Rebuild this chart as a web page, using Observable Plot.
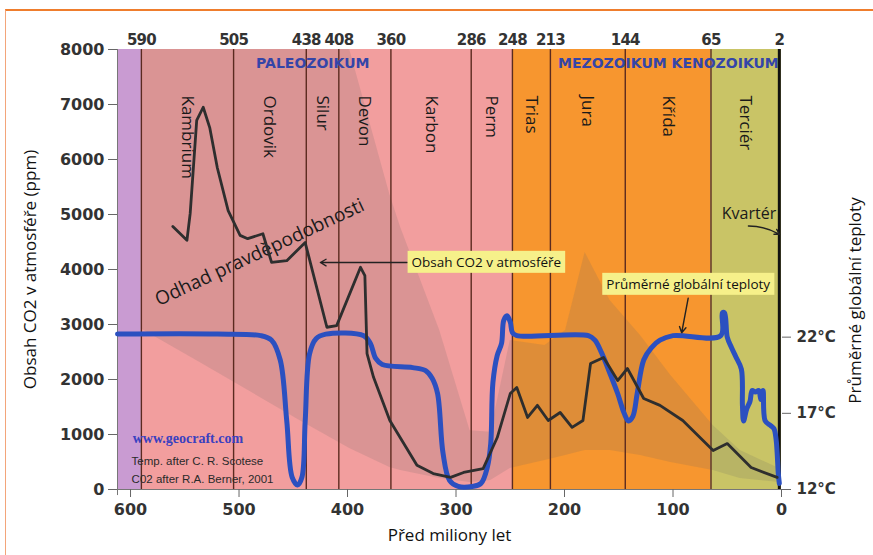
<!DOCTYPE html>
<html>
<head>
<meta charset="utf-8">
<script src="https://cdn.jsdelivr.net/npm/d3@7"></script>
<script src="https://cdn.jsdelivr.net/npm/@observablehq/plot@0.6"></script>
<style>
  body { margin: 0; background: #fff; }
  #wrap { position: relative; width: 873px; height: 555px; overflow: hidden; }
  #border { position: absolute; left: 5px; top: 9px; right: -2px; bottom: -2px;
            border-top: 2px solid #ef7d2d; border-left: 1.5px solid #f3a57a; pointer-events: none; }
</style>
</head>
<body>
<div id="wrap"><div id="border"></div></div>
<script>
// ---- Geological periods (millions of years ago) ----
const periodNames  = ["Kambrium", "Ordovik", "Silur", "Devon", "Karbon", "Perm", "Trias", "Jura", "Křída", "Terciér"];
const periodStarts = [590, 505, 438, 408, 360, 286, 248, 213, 144, 65];
const periodEnds   = [505, 438, 408, 360, 286, 248, 213, 144, 65, 2];
const topTickLabels = [590, 505, 438, 408, 360, 286, 248, 213, 144, 65, 2];

// ---- Era background bands ----
const eraNames  = ["Prekambrium", "Paleozoikum", "Mezozoikum", "Kenozoikum"];
const eraStarts = [612, 590, 248, 65];
const eraEnds   = [590, 248, 65, 0];
const eraColors = ["#c99bd2", "#f29e9e", "#f7962f", "#c9c466"];

// ---- CO2 in atmosphere (ppm), Berner ----
const co2Ma  = [561, 548, 545, 539, 533, 527, 520, 510, 499, 492, 478, 470, 456, 439, 419, 410, 388, 384, 382, 376, 361, 336, 321, 305, 293, 275, 262, 250, 244, 234, 225, 215, 204, 193, 183, 176, 164, 151, 142, 127, 112, 91, 63, 50, 28, 4];
const co2Ppm = [4780, 4530, 5020, 6710, 6950, 6580, 5850, 5070, 4620, 4560, 4650, 4130, 4160, 4490, 2950, 2980, 4040, 3890, 2470, 2040, 1255, 440, 290, 220, 310, 380, 945, 1745, 1855, 1310, 1530, 1255, 1400, 1130, 1255, 2290, 2400, 1980, 2200, 1655, 1530, 1255, 710, 835, 400, 220];

// ---- Uncertainty range of CO2 estimate ----
const unMa   = [590, 536, 444, 398, 361, 351, 315, 287, 268, 250, 218, 199, 181, 158, 130, 102, 63, 38, 2];
const unLow  = [2917, 2309, 1255, 745, 400, 345, 200, 127, 164, 380, 527, 618, 709, 709, 618, 490, 345, 200, 127];
const unHigh = [8000, 8000, 8000, 8000, 5364, 4764, 2890, 1070, 1040, 2710, 2618, 2890, 4310, 3436, 2800, 2073, 1164, 709, 380];

// ---- Global mean temperature (°C), Scotese ----
const tMa = [612, 520, 480, 470, 462, 456, 451, 446, 442, 439, 435, 429, 420, 385, 379, 374, 368, 340, 328, 322, 317, 312, 306, 298, 285, 277, 271, 268, 266, 262, 258, 256, 253, 250, 248, 244, 178, 172, 166, 158, 151, 145, 141, 137, 133, 127, 120, 112, 100, 56, 54.5, 52.5, 50, 46, 42, 37, 36, 35, 32, 29, 27, 24, 21, 19, 17, 15, 10, 7, 5, 4, 3, 2];
const tC  = [22.2, 22.2, 22.1, 21.8, 20.5, 16.5, 12.8, 12.3, 12.8, 16.5, 20.9, 21.9, 22.2, 22.1, 21.6, 20.6, 20.2, 20.0, 19.8, 19.3, 18.3, 14.4, 12.6, 12.2, 12.2, 12.4, 13.5, 15.0, 19.0, 20.8, 21.6, 23.1, 23.4, 23.0, 22.3, 22.1, 22.1, 21.8, 21.0, 19.6, 18.3, 17.0, 16.5, 16.8, 18.3, 20.5, 21.3, 21.8, 22.1, 22.1, 23.6, 23.6, 22.0, 21.3, 20.7, 19.9, 17.5, 16.5, 17.3, 17.8, 18.5, 18.4, 18.5, 17.9, 18.5, 16.5, 16.2, 16.0, 15.3, 14.4, 13.1, 12.4];

// ---- Axis ticks ----
const ppmTicks = [0, 1000, 2000, 3000, 4000, 5000, 6000, 7000, 8000];
const maTicks  = [600, 500, 400, 300, 200, 100, 0];
const tempTicks = [12, 17, 22];

// ---- Texts ----
const callouts = [
  {text: "Obsah CO2 v atmosféře", ma: 272, ppm: 4127},
  {text: "Průměrné globální teploty", ma: 86, ppm: 3727}
];
const arrowsFrom = [{ma: 345, ppm: 4127}, {ma: 86, ppm: 3480}];
const arrowsTo   = [{ma: 425, ppm: 4127}, {ma: 92, ppm: 2850}];
const kvarterArrow = [{x1: 30.5, y1: 4790, x2: 1.8, y2: 4640}];

// temperature placed on the CO2 axis (right axis)
const tempToPpm = d3.scaleLinear([12, 22], [0, 2770]);

const periods = periodNames.map((n, i) => ({name: n, start: periodStarts[i], end: periodEnds[i], mid: (periodStarts[i] + periodEnds[i]) / 2}));
const eras = eraNames.map((n, i) => ({name: n, start: eraStarts[i], end: eraEnds[i], color: eraColors[i]}));
const co2 = co2Ma.map((m, i) => ({ma: m, ppm: co2Ppm[i]}));
const unc = unMa.map((m, i) => ({ma: m, lo: unLow[i], hi: unHigh[i]}));
const temp = tMa.map((m, i) => ({ma: m, ppm: tempToPpm(tC[i])}));
const arrows = arrowsFrom.map((a, i) => ({x1: a.ma, y1: a.ppm, x2: arrowsTo[i].ma, y2: arrowsTo[i].ppm}));

const F = "'Open Sans', 'Noto Sans', sans-serif";
const FN = "'DejaVu Sans', sans-serif";

const chart = Plot.plot({
  width: 873,
  height: 555,
  marginLeft: 117,
  marginRight: 92,
  marginTop: 49,
  marginBottom: 66,
  style: {fontFamily: FN, fontSize: "15px", color: "#333", background: "transparent", overflow: "visible"},
  x: {domain: [612, 0]},
  y: {domain: [0, 8000]},
  marks: [
    Plot.rect(eras, {x1: "start", x2: "end", fill: "color"}),
    Plot.areaY(unc, {x: "ma", y1: "lo", y2: "hi", fill: "#646464", fillOpacity: 0.17}),
    Plot.ruleX(periodStarts, {stroke: "#5b2a1f", strokeWidth: 1.4}),
    Plot.ruleX([2], {stroke: "#111", strokeWidth: 3}),
    Plot.ruleX([612], {stroke: "#777", strokeWidth: 1, y1: -110, y2: 8000}),
    Plot.ruleY([0], {stroke: "#777", strokeWidth: 1}),
    // axes
    Plot.axisY({ticks: ppmTicks, tickSize: 9, tickPadding: 4, fontWeight: 600, fontSize: 16, label: null, stroke: "#666", tickFormat: d => String(d)}),
    Plot.axisY({anchor: "right", ticks: tempTicks.map(tempToPpm), tickSize: 9, tickPadding: 6, fontWeight: 600, fontSize: 15, label: null, stroke: "#666",
      tickFormat: d => `${Math.round(tempToPpm.invert(d))}°C`}),
    Plot.axisX({anchor: "bottom", ticks: maTicks, tickSize: 8, tickPadding: 6, fontWeight: 600, fontSize: 16, label: null, stroke: "#666", tickFormat: d => String(d)}),
    Plot.axisX({anchor: "top", ticks: topTickLabels, tickSize: 0, tickPadding: 5, fontWeight: 600, fontSize: 15, label: null, tickFormat: d => String(d)}),
    // period names
    Plot.text(periods, {x: "mid", y: 7164, text: "name", rotate: 90, textAnchor: "start", fontSize: 17, fontFamily: F, fill: "#1a1a1a"}),
    // era names
    Plot.text(["PALEOZOIKUM"], {x: 432, y: 7745, text: d => d, fontSize: 14, fontWeight: "bold", fontFamily: FN, fill: "#3445a8"}),
    Plot.text(["MEZOZOIKUM KENOZOIKUM"], {x: 2.5, y: 7745, text: d => d, textAnchor: "end", fontSize: 14, fontWeight: "bold", fontFamily: FN, fill: "#3445a8"}),
    // uncertainty label
    Plot.text(["Odhad pravděpodobnosti"], {x: 481, y: 4309, text: d => d, rotate: -25, fontSize: 19, fontFamily: F, fill: "#1a1a1a"}),
    Plot.text(["Kvartér"], {x: 30, y: 5018, text: d => d, fontSize: 16, fontFamily: F, fill: "#1a1a1a"}),
    // credits
    Plot.text(["www.geocraft.com"], {x: 598, y: 927, text: d => d, textAnchor: "start", fontSize: 14, fontWeight: "bold", fontFamily: "'Liberation Serif', serif", fill: "#3a40c0"}),
    Plot.text(["Temp. after C. R. Scotese"], {x: 599, y: 509, text: d => d, textAnchor: "start", fontSize: 11.5, fontFamily: "'Liberation Sans', sans-serif", fill: "#2a2a2a"}),
    Plot.text(["C02 after R.A. Berner, 2001"], {x: 599, y: 182, text: d => d, textAnchor: "start", fontSize: 11.5, fontFamily: "'Liberation Sans', sans-serif", fill: "#2a2a2a"}),
    // data lines
    Plot.line(temp, {x: "ma", y: "ppm", stroke: "#2b50c0", strokeWidth: 5, curve: "catmull-rom"}),
    Plot.line(co2, {x: "ma", y: "ppm", stroke: "#2e2e2e", strokeWidth: 2.8, strokeLinejoin: "round"}),
    // callouts
    Plot.arrow(arrows, {x1: "x1", y1: "y1", x2: "x2", y2: "y2", stroke: "#222", strokeWidth: 1.4, headLength: 7}),
    Plot.arrow(kvarterArrow, {x1: "x1", y1: "y1", x2: "x2", y2: "y2", stroke: "#222", strokeWidth: 1.4, headLength: 6, bend: 15}),
    Plot.text(callouts, {x: "ma", y: "ppm", text: "text", fontSize: 13.5, fontFamily: F, fill: "#111", ariaDescription: "callouts"}),
    // axis titles
    Plot.text(["Obsah CO2 v atmosféře (ppm)"], {frameAnchor: "left", textAnchor: "middle", text: d => d, rotate: -90, dx: -87, fontSize: 17, fontFamily: F, fill: "#111"}),
    Plot.text(["Průměrné globální teploty"], {frameAnchor: "right", textAnchor: "middle", text: d => d, rotate: -90, dx: 74, dy: 31, fontSize: 17, fontFamily: F, fill: "#111"}),
    Plot.text(["Před miliony let"], {frameAnchor: "bottom", text: d => d, dy: 51, fontSize: 17, fontFamily: F, fill: "#111"})
  ]
});

document.getElementById("wrap").prepend(chart);

// yellow boxes behind callout texts
chart.querySelectorAll('g[aria-description="callouts"] text').forEach(t => {
  const b = t.getBBox();
  const r = document.createElementNS("http://www.w3.org/2000/svg", "rect");
  r.setAttribute("x", b.x - 4);
  r.setAttribute("y", b.y - 2);
  r.setAttribute("width", b.width + 8);
  r.setAttribute("height", b.height + 4);
  r.setAttribute("fill", "#f6f08a");
  const tr = t.getAttribute("transform");
  if (tr) r.setAttribute("transform", tr);
  t.parentNode.insertBefore(r, t);
});

// tighter letter spacing for the crowded top (period boundary) labels
chart.querySelectorAll('g[aria-label="x-axis tick label"]').forEach(g => {
  const box = g.getBoundingClientRect();
  if (box.top < 60) g.setAttribute("letter-spacing", "-0.8");
});
</script>
</body>
</html>
